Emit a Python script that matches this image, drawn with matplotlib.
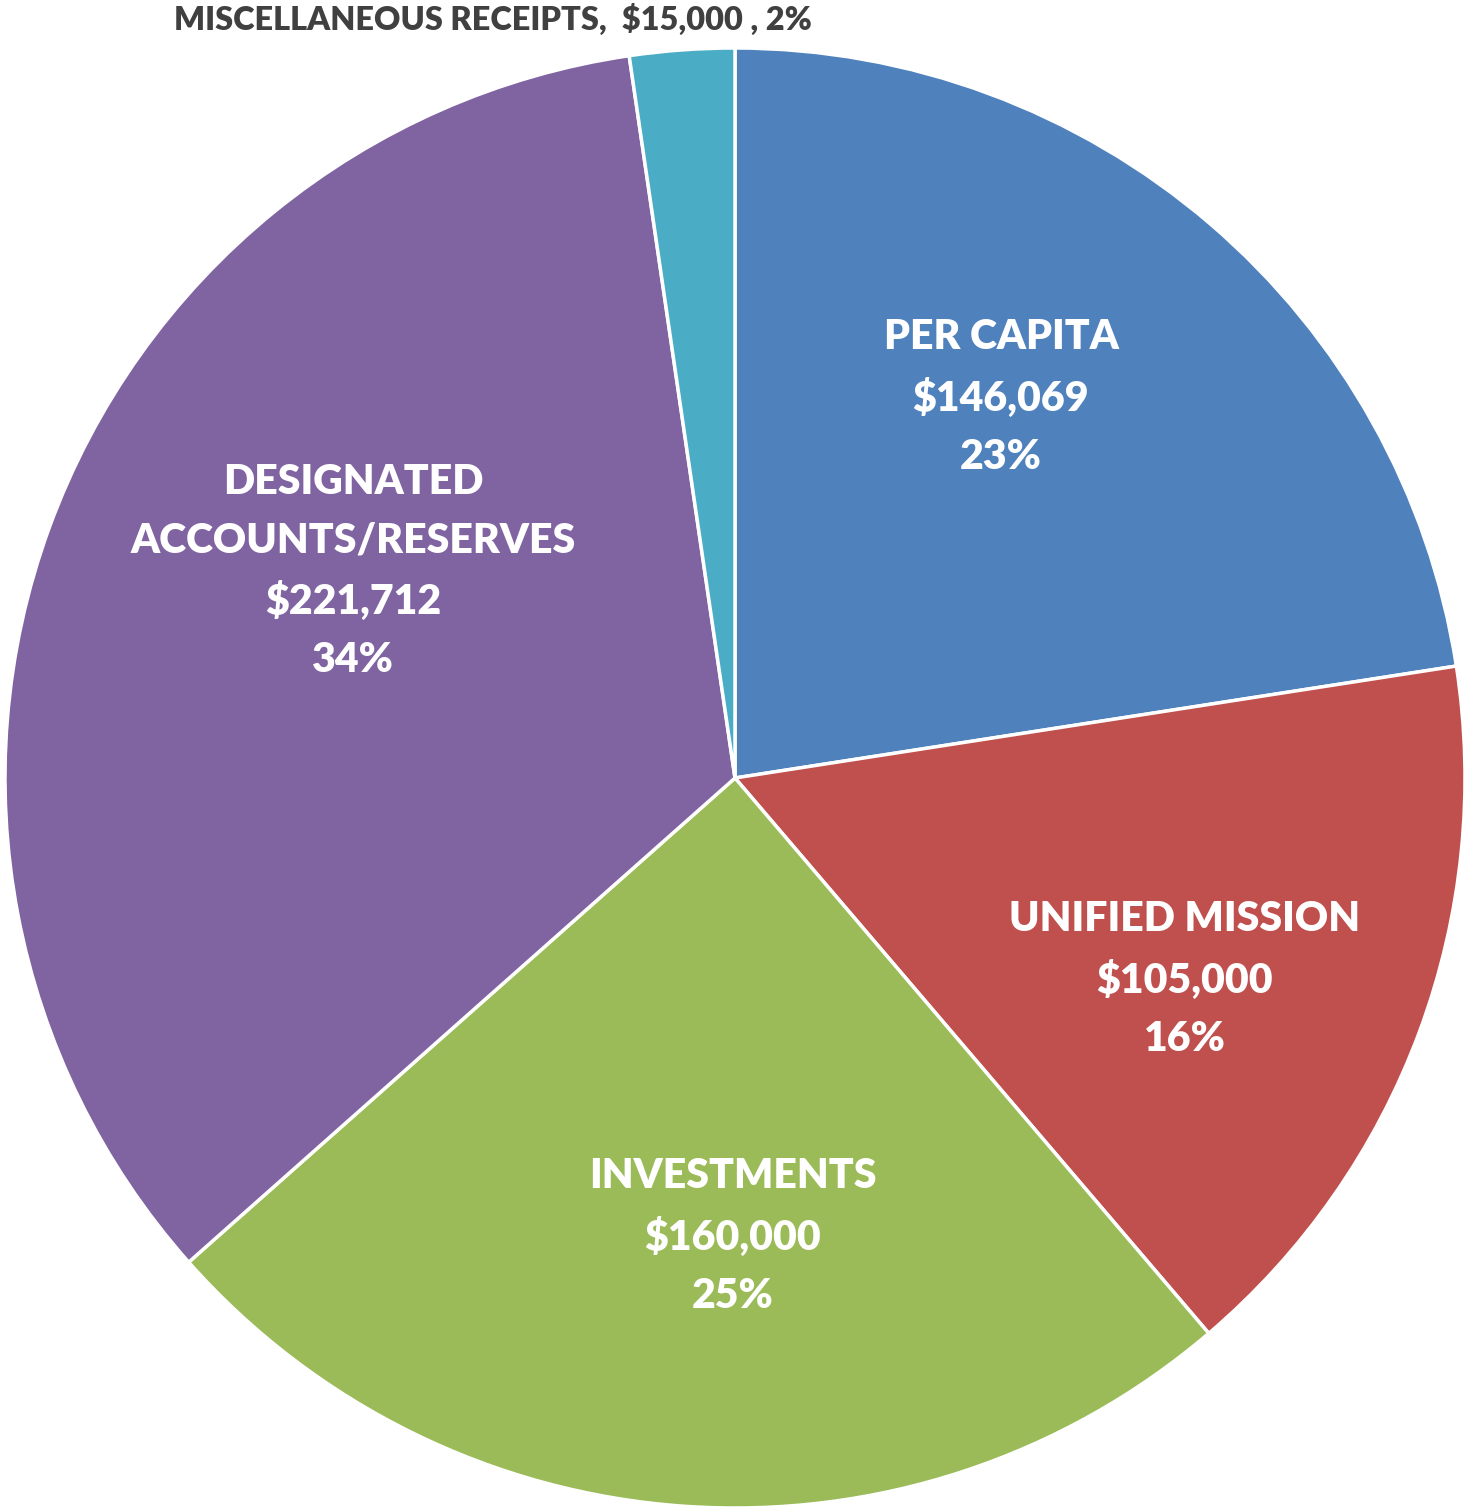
import matplotlib.pyplot as plt

plt.rcParams['font.family'] = ['Lato', 'DejaVu Sans']

# data
categories = ["PER CAPITA", "UNIFIED MISSION", "INVESTMENTS",
              "DESIGNATED\nACCOUNTS/RESERVES", "MISCELLANEOUS RECEIPTS"]
amounts = [146069, 105000, 160000, 221712, 15000]
pct_labels = ["23%", "16%", "25%", "34%", "2%"]
colors = ["#4F81BD", "#C0504D", "#9BBB59", "#8064A2", "#4BACC6"]

W, H = 1466, 1511
cx, cy, R = 735, 778, 730

fig = plt.figure(figsize=(W / 100, H / 100), dpi=100)
ax = fig.add_axes([0, 0, 1, 1])
ax.pie(amounts, colors=colors, startangle=90, counterclock=False, radius=1,
       wedgeprops=dict(edgecolor="white", linewidth=2.5))
ax.set_xlim(-cx / R, (W - cx) / R)
ax.set_ylim(-(H - cy) / R, cy / R)
ax.set_aspect("auto")
ax.axis("off")

def px(x, y):
    return (x - cx) / R, (cy - y) / R

# label anchor positions (pixels)
label_pos = [(1001, 397), (1185, 979), (733, 1236), (353, 571)]
for i, (x, y) in enumerate(label_pos):
    txt = f"{categories[i]}\n${amounts[i]:,}\n{pct_labels[i]}"
    ax.text(*px(x, y), txt, ha="center", va="center", color="white",
            fontsize=29.5, fontweight="heavy", linespacing=1.66)

ax.text(*px(493, 19), f"{categories[4]},  ${amounts[4]:,} , {pct_labels[4]}",
        ha="center", va="center", color="#404040", fontsize=23.4,
        fontweight="heavy")

fig.savefig("out.png", dpi=100)
